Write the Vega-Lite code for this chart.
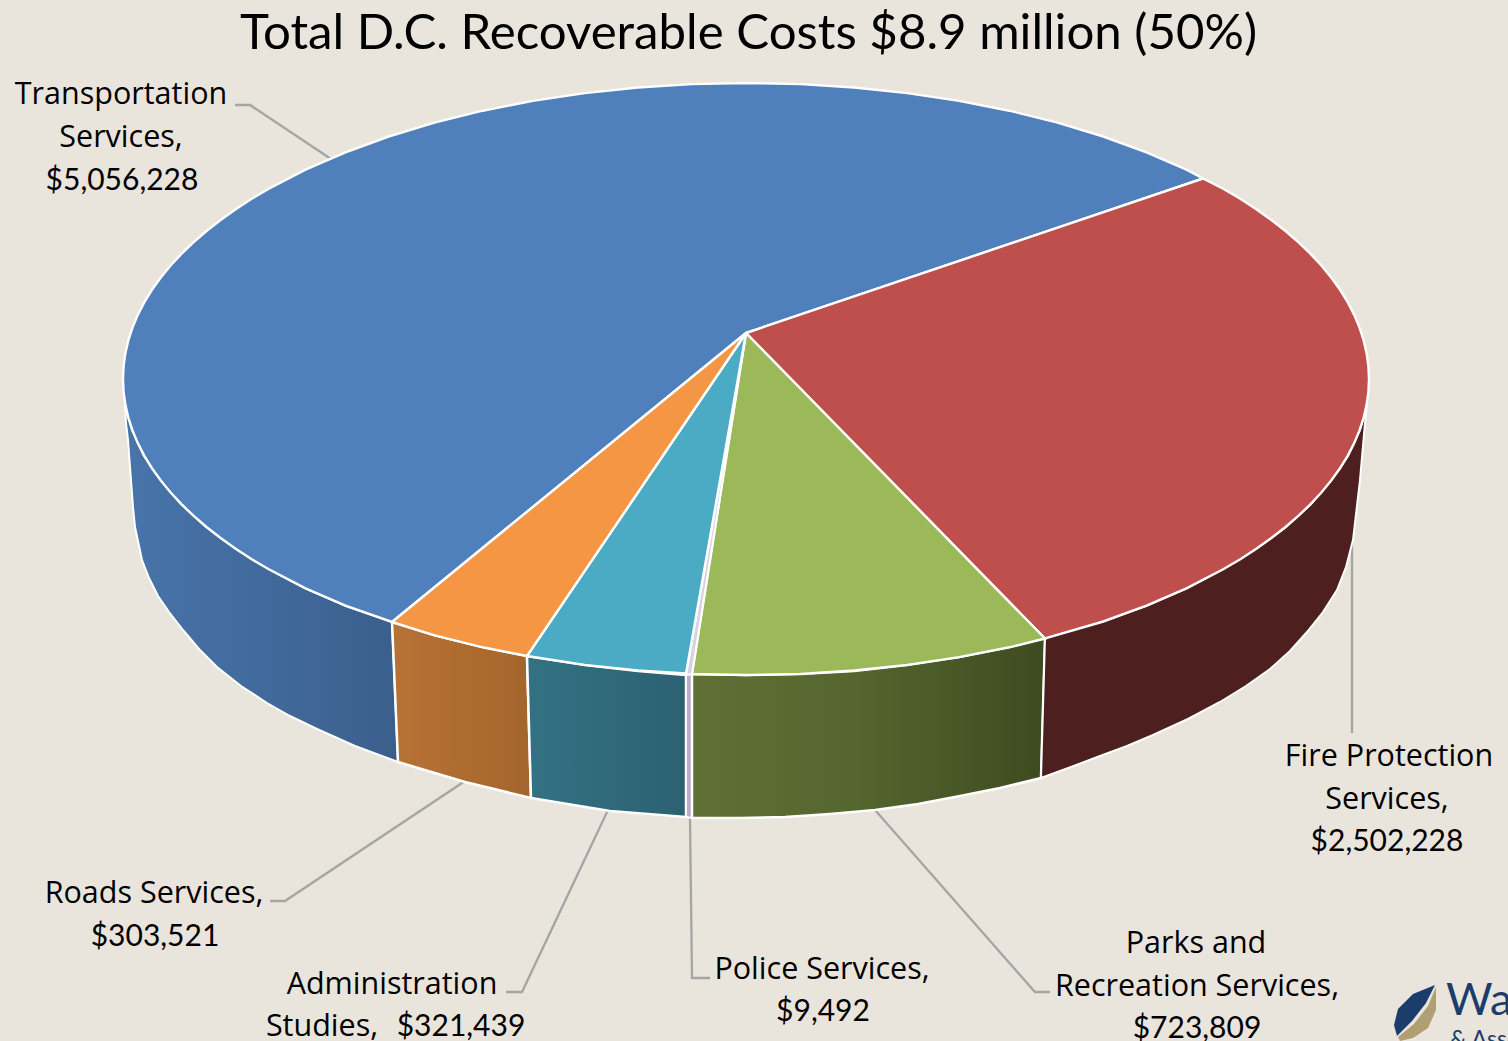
{"$schema":"https://vega.github.io/schema/vega-lite/v6.json","width":1508,"height":1041,"padding":0,"autosize":{"type":"none"},"background":"#e9e4dc","config":{"view":{"stroke":null}},
"data":{"values":[
{"shape":"wallBlue","seq":1,"x":125,"y":405},{"shape":"wallBlue","seq":2,"x":132,"y":430},{"shape":"wallBlue","seq":3,"x":144,"y":456},{"shape":"wallBlue","seq":4,"x":161,"y":480},{"shape":"wallBlue","seq":5,"x":181,"y":504},{"shape":"wallBlue","seq":6,"x":206,"y":527},{"shape":"wallBlue","seq":7,"x":236,"y":549},{"shape":"wallBlue","seq":8,"x":269,"y":569},{"shape":"wallBlue","seq":9,"x":305,"y":588},{"shape":"wallBlue","seq":10,"x":346,"y":606},{"shape":"wallBlue","seq":11,"x":392,"y":622},{"shape":"wallBlue","seq":12,"x":398,"y":762},{"shape":"wallBlue","seq":13,"x":355,"y":746},{"shape":"wallBlue","seq":14,"x":317,"y":729},{"shape":"wallBlue","seq":15,"x":290,"y":716},{"shape":"wallBlue","seq":16,"x":267,"y":703},{"shape":"wallBlue","seq":17,"x":241,"y":686},{"shape":"wallBlue","seq":18,"x":217,"y":667},{"shape":"wallBlue","seq":19,"x":199,"y":649},{"shape":"wallBlue","seq":20,"x":183,"y":630},{"shape":"wallBlue","seq":21,"x":169,"y":612},{"shape":"wallBlue","seq":22,"x":158,"y":596},{"shape":"wallBlue","seq":23,"x":149,"y":578},{"shape":"wallBlue","seq":24,"x":142,"y":560},{"shape":"wallBlue","seq":25,"x":135,"y":527},{"shape":"wallBlue","seq":26,"x":133,"y":507},{"shape":"wallBlue","seq":27,"x":128,"y":440},{"shape":"wallBlue","seq":28,"x":126,"y":423},{"shape":"wallBlue","seq":29,"x":125,"y":405},
{"shape":"wallOrange","seq":1,"x":392,"y":622},{"shape":"wallOrange","seq":2,"x":434,"y":635},{"shape":"wallOrange","seq":3,"x":483,"y":647},{"shape":"wallOrange","seq":4,"x":527,"y":656},{"shape":"wallOrange","seq":5,"x":531,"y":798},{"shape":"wallOrange","seq":6,"x":465,"y":782},{"shape":"wallOrange","seq":7,"x":398,"y":762},{"shape":"wallOrange","seq":8,"x":392,"y":622},
{"shape":"wallTeal","seq":1,"x":527,"y":656},{"shape":"wallTeal","seq":2,"x":585,"y":665},{"shape":"wallTeal","seq":3,"x":638,"y":671},{"shape":"wallTeal","seq":4,"x":686,"y":675},{"shape":"wallTeal","seq":5,"x":686,"y":817},{"shape":"wallTeal","seq":6,"x":610,"y":811},{"shape":"wallTeal","seq":7,"x":531,"y":798},{"shape":"wallTeal","seq":8,"x":527,"y":656},
{"shape":"wallPolice","seq":1,"x":686,"y":675},{"shape":"wallPolice","seq":2,"x":692,"y":674},{"shape":"wallPolice","seq":3,"x":692,"y":818},{"shape":"wallPolice","seq":4,"x":686,"y":817},{"shape":"wallPolice","seq":5,"x":686,"y":675},
{"shape":"wallGreen","seq":1,"x":692,"y":674},{"shape":"wallGreen","seq":2,"x":746,"y":675},{"shape":"wallGreen","seq":3,"x":800,"y":674},{"shape":"wallGreen","seq":4,"x":854,"y":671},{"shape":"wallGreen","seq":5,"x":907,"y":665},{"shape":"wallGreen","seq":6,"x":959,"y":657},{"shape":"wallGreen","seq":7,"x":1009,"y":647},{"shape":"wallGreen","seq":8,"x":1045,"y":638},{"shape":"wallGreen","seq":9,"x":1041,"y":778},{"shape":"wallGreen","seq":10,"x":1000,"y":788},{"shape":"wallGreen","seq":11,"x":960,"y":796},{"shape":"wallGreen","seq":12,"x":918,"y":804},{"shape":"wallGreen","seq":13,"x":875,"y":810},{"shape":"wallGreen","seq":14,"x":830,"y":814},{"shape":"wallGreen","seq":15,"x":785,"y":817},{"shape":"wallGreen","seq":16,"x":740,"y":818},{"shape":"wallGreen","seq":17,"x":692,"y":818},{"shape":"wallGreen","seq":18,"x":692,"y":674},
{"shape":"wallRed","seq":1,"x":1045,"y":638},{"shape":"wallRed","seq":2,"x":1103,"y":621},{"shape":"wallRed","seq":3,"x":1146,"y":606},{"shape":"wallRed","seq":4,"x":1187,"y":588},{"shape":"wallRed","seq":5,"x":1223,"y":569},{"shape":"wallRed","seq":6,"x":1256,"y":549},{"shape":"wallRed","seq":7,"x":1286,"y":527},{"shape":"wallRed","seq":8,"x":1311,"y":504},{"shape":"wallRed","seq":9,"x":1331,"y":480},{"shape":"wallRed","seq":10,"x":1348,"y":456},{"shape":"wallRed","seq":11,"x":1360,"y":430},{"shape":"wallRed","seq":12,"x":1367,"y":405},{"shape":"wallRed","seq":13,"x":1365,"y":423},{"shape":"wallRed","seq":14,"x":1360,"y":480},{"shape":"wallRed","seq":15,"x":1353,"y":540},{"shape":"wallRed","seq":16,"x":1346,"y":567},{"shape":"wallRed","seq":17,"x":1337,"y":590},{"shape":"wallRed","seq":18,"x":1323,"y":612},{"shape":"wallRed","seq":19,"x":1307,"y":632},{"shape":"wallRed","seq":20,"x":1290,"y":651},{"shape":"wallRed","seq":21,"x":1270,"y":669},{"shape":"wallRed","seq":22,"x":1246,"y":686},{"shape":"wallRed","seq":23,"x":1220,"y":702},{"shape":"wallRed","seq":24,"x":1188,"y":719},{"shape":"wallRed","seq":25,"x":1153,"y":735},{"shape":"wallRed","seq":26,"x":1127,"y":746},{"shape":"wallRed","seq":27,"x":1100,"y":756},{"shape":"wallRed","seq":28,"x":1071,"y":767},{"shape":"wallRed","seq":29,"x":1041,"y":778},{"shape":"wallRed","seq":30,"x":1045,"y":638},
{"shape":"topBlue","seq":1,"x":746,"y":333},{"shape":"topBlue","seq":2,"x":392,"y":622},{"shape":"topBlue","seq":3,"x":345.5,"y":605.7},{"shape":"topBlue","seq":4,"x":305.5,"y":588.3},{"shape":"topBlue","seq":5,"x":268.8,"y":569.3},{"shape":"topBlue","seq":6,"x":251.7,"y":559.2},{"shape":"topBlue","seq":7,"x":235.7,"y":548.8},{"shape":"topBlue","seq":8,"x":220.6,"y":538},{"shape":"topBlue","seq":9,"x":206.5,"y":527},{"shape":"topBlue","seq":10,"x":193.4,"y":515.7},{"shape":"topBlue","seq":11,"x":181.4,"y":504.1},{"shape":"topBlue","seq":12,"x":170.4,"y":492.3},{"shape":"topBlue","seq":13,"x":160.6,"y":480.2},{"shape":"topBlue","seq":14,"x":151.8,"y":468},{"shape":"topBlue","seq":15,"x":144.2,"y":455.6},{"shape":"topBlue","seq":16,"x":137.8,"y":443.1},{"shape":"topBlue","seq":17,"x":132.5,"y":430.4},{"shape":"topBlue","seq":18,"x":128.3,"y":417.6},{"shape":"topBlue","seq":19,"x":125.4,"y":404.8},{"shape":"topBlue","seq":20,"x":123.6,"y":391.9},{"shape":"topBlue","seq":21,"x":123,"y":379},{"shape":"topBlue","seq":22,"x":123.6,"y":366.1},{"shape":"topBlue","seq":23,"x":125.4,"y":353.2},{"shape":"topBlue","seq":24,"x":128.3,"y":340.4},{"shape":"topBlue","seq":25,"x":132.5,"y":327.6},{"shape":"topBlue","seq":26,"x":137.8,"y":314.9},{"shape":"topBlue","seq":27,"x":144.2,"y":302.4},{"shape":"topBlue","seq":28,"x":151.8,"y":290},{"shape":"topBlue","seq":29,"x":160.6,"y":277.8},{"shape":"topBlue","seq":30,"x":170.4,"y":265.7},{"shape":"topBlue","seq":31,"x":181.4,"y":253.9},{"shape":"topBlue","seq":32,"x":193.4,"y":242.3},{"shape":"topBlue","seq":33,"x":206.5,"y":231},{"shape":"topBlue","seq":34,"x":220.6,"y":220},{"shape":"topBlue","seq":35,"x":235.7,"y":209.2},{"shape":"topBlue","seq":36,"x":251.7,"y":198.8},{"shape":"topBlue","seq":37,"x":268.8,"y":188.7},{"shape":"topBlue","seq":38,"x":305.5,"y":169.7},{"shape":"topBlue","seq":39,"x":345.5,"y":152.3},{"shape":"topBlue","seq":40,"x":388.7,"y":136.5},{"shape":"topBlue","seq":41,"x":434.5,"y":122.7},{"shape":"topBlue","seq":42,"x":482.7,"y":110.7},{"shape":"topBlue","seq":43,"x":532.9,"y":100.9},{"shape":"topBlue","seq":44,"x":584.8,"y":93.1},{"shape":"topBlue","seq":45,"x":637.8,"y":87.5},{"shape":"topBlue","seq":46,"x":691.7,"y":84.1},{"shape":"topBlue","seq":47,"x":746,"y":83},{"shape":"topBlue","seq":48,"x":800.3,"y":84.1},{"shape":"topBlue","seq":49,"x":854.2,"y":87.5},{"shape":"topBlue","seq":50,"x":907.2,"y":93.1},{"shape":"topBlue","seq":51,"x":959.1,"y":100.9},{"shape":"topBlue","seq":52,"x":1009.3,"y":110.7},{"shape":"topBlue","seq":53,"x":1057.5,"y":122.7},{"shape":"topBlue","seq":54,"x":1103.3,"y":136.5},{"shape":"topBlue","seq":55,"x":1146.5,"y":152.3},{"shape":"topBlue","seq":56,"x":1186.5,"y":169.7},{"shape":"topBlue","seq":57,"x":1203,"y":178.5},{"shape":"topBlue","seq":58,"x":746,"y":333},
{"shape":"topRed","seq":1,"x":746,"y":333},{"shape":"topRed","seq":2,"x":1203,"y":178.5},{"shape":"topRed","seq":3,"x":1223.2,"y":188.7},{"shape":"topRed","seq":4,"x":1240.3,"y":198.8},{"shape":"topRed","seq":5,"x":1256.3,"y":209.2},{"shape":"topRed","seq":6,"x":1271.4,"y":220},{"shape":"topRed","seq":7,"x":1285.5,"y":231},{"shape":"topRed","seq":8,"x":1298.6,"y":242.3},{"shape":"topRed","seq":9,"x":1310.6,"y":253.9},{"shape":"topRed","seq":10,"x":1321.6,"y":265.7},{"shape":"topRed","seq":11,"x":1331.4,"y":277.8},{"shape":"topRed","seq":12,"x":1340.2,"y":290},{"shape":"topRed","seq":13,"x":1347.8,"y":302.4},{"shape":"topRed","seq":14,"x":1354.2,"y":314.9},{"shape":"topRed","seq":15,"x":1359.5,"y":327.6},{"shape":"topRed","seq":16,"x":1363.7,"y":340.4},{"shape":"topRed","seq":17,"x":1366.6,"y":353.2},{"shape":"topRed","seq":18,"x":1368.4,"y":366.1},{"shape":"topRed","seq":19,"x":1369,"y":379},{"shape":"topRed","seq":20,"x":1368.4,"y":391.9},{"shape":"topRed","seq":21,"x":1366.6,"y":404.8},{"shape":"topRed","seq":22,"x":1363.7,"y":417.6},{"shape":"topRed","seq":23,"x":1359.5,"y":430.4},{"shape":"topRed","seq":24,"x":1354.2,"y":443.1},{"shape":"topRed","seq":25,"x":1347.8,"y":455.6},{"shape":"topRed","seq":26,"x":1340.2,"y":468},{"shape":"topRed","seq":27,"x":1331.4,"y":480.2},{"shape":"topRed","seq":28,"x":1321.6,"y":492.3},{"shape":"topRed","seq":29,"x":1310.6,"y":504.1},{"shape":"topRed","seq":30,"x":1298.6,"y":515.7},{"shape":"topRed","seq":31,"x":1285.5,"y":527},{"shape":"topRed","seq":32,"x":1271.4,"y":538},{"shape":"topRed","seq":33,"x":1256.3,"y":548.8},{"shape":"topRed","seq":34,"x":1240.3,"y":559.2},{"shape":"topRed","seq":35,"x":1223.2,"y":569.3},{"shape":"topRed","seq":36,"x":1186.5,"y":588.3},{"shape":"topRed","seq":37,"x":1146.5,"y":605.7},{"shape":"topRed","seq":38,"x":1103.3,"y":621.5},{"shape":"topRed","seq":39,"x":1045,"y":638.5},{"shape":"topRed","seq":40,"x":746,"y":333},
{"shape":"topGreen","seq":1,"x":746,"y":333},{"shape":"topGreen","seq":2,"x":1045,"y":638.5},{"shape":"topGreen","seq":3,"x":1009.3,"y":647.3},{"shape":"topGreen","seq":4,"x":959.1,"y":657.1},{"shape":"topGreen","seq":5,"x":907.2,"y":664.9},{"shape":"topGreen","seq":6,"x":854.2,"y":670.5},{"shape":"topGreen","seq":7,"x":800.3,"y":673.9},{"shape":"topGreen","seq":8,"x":746,"y":675},{"shape":"topGreen","seq":9,"x":692,"y":674},{"shape":"topGreen","seq":10,"x":746,"y":333},
{"shape":"topPolice","seq":1,"x":746,"y":333},{"shape":"topPolice","seq":2,"x":692,"y":674},{"shape":"topPolice","seq":3,"x":686,"y":675},{"shape":"topPolice","seq":4,"x":746,"y":333},
{"shape":"topTeal","seq":1,"x":746,"y":333},{"shape":"topTeal","seq":2,"x":686,"y":673.5},{"shape":"topTeal","seq":3,"x":637.8,"y":670.5},{"shape":"topTeal","seq":4,"x":584.8,"y":664.9},{"shape":"topTeal","seq":5,"x":527,"y":656},{"shape":"topTeal","seq":6,"x":746,"y":333},
{"shape":"topOrange","seq":1,"x":746,"y":333},{"shape":"topOrange","seq":2,"x":527,"y":656},{"shape":"topOrange","seq":3,"x":482.7,"y":647.3},{"shape":"topOrange","seq":4,"x":434.5,"y":635.3},{"shape":"topOrange","seq":5,"x":392,"y":622},{"shape":"topOrange","seq":6,"x":746,"y":333},
{"shape":"leafNavy","seq":1,"x":1435,"y":985},{"shape":"leafNavy","seq":2,"x":1413,"y":994},{"shape":"leafNavy","seq":3,"x":1398,"y":1009},{"shape":"leafNavy","seq":4,"x":1394,"y":1025},{"shape":"leafNavy","seq":5,"x":1397,"y":1036},{"shape":"leafNavy","seq":6,"x":1412,"y":1021},{"shape":"leafNavy","seq":7,"x":1426,"y":1003},{"shape":"leafNavy","seq":8,"x":1435,"y":985},
{"shape":"leafTan","seq":1,"x":1436,"y":987},{"shape":"leafTan","seq":2,"x":1436,"y":1010},{"shape":"leafTan","seq":3,"x":1428,"y":1028},{"shape":"leafTan","seq":4,"x":1413,"y":1038},{"shape":"leafTan","seq":5,"x":1400,"y":1041},{"shape":"leafTan","seq":6,"x":1398,"y":1037},{"shape":"leafTan","seq":7,"x":1414,"y":1024},{"shape":"leafTan","seq":8,"x":1428,"y":1006},{"shape":"leafTan","seq":9,"x":1436,"y":987}
]},
"encoding":{"x":{"field":"x","type":"quantitative","scale":{"domain":[0,1508],"nice":false,"zero":false},"axis":null},"y":{"field":"y","type":"quantitative","scale":{"domain":[1041,0],"nice":false,"zero":false},"axis":null},"order":{"field":"seq","type":"quantitative"}},
"layer":[
{"data":{"values":[
{"leader":"Transportation","seq":1,"x":235,"y":105},{"leader":"Transportation","seq":2,"x":250,"y":105},{"leader":"Transportation","seq":3,"x":331,"y":159},
{"leader":"Fire","seq":1,"x":1352,"y":540},{"leader":"Fire","seq":2,"x":1352,"y":733},
{"leader":"Roads","seq":1,"x":270,"y":901},{"leader":"Roads","seq":2,"x":285,"y":901},{"leader":"Roads","seq":3,"x":465,"y":781},
{"leader":"Administration","seq":1,"x":506,"y":992},{"leader":"Administration","seq":2,"x":522,"y":992},{"leader":"Administration","seq":3,"x":608,"y":810},
{"leader":"Police","seq":1,"x":690,"y":818},{"leader":"Police","seq":2,"x":692,"y":978},{"leader":"Police","seq":3,"x":710,"y":978},
{"leader":"Parks","seq":1,"x":875,"y":810},{"leader":"Parks","seq":2,"x":1035,"y":992},{"leader":"Parks","seq":3,"x":1050,"y":992}
]},"mark":{"type":"line","stroke":"#a5a5a5","strokeWidth":2.3},"encoding":{"detail":{"field":"leader"}}},
{"transform":[{"filter":"datum.shape==='wallBlue'"}],"mark":{"type":"line","stroke":"#ffffff","strokeWidth":2,"fill":{"gradient":"linear","x1":0,"y1":0,"x2":1,"y2":0,"stops":[{"offset":0,"color":"#4874aa"},{"offset":1,"color":"#3a5f8d"}]}}},
{"transform":[{"filter":"datum.shape==='wallOrange'"}],"mark":{"type":"line","stroke":"#ffffff","strokeWidth":2.5,"fill":{"gradient":"linear","x1":0,"y1":0,"x2":1,"y2":0,"stops":[{"offset":0,"color":"#b87236"},{"offset":1,"color":"#a4652c"}]}}},
{"transform":[{"filter":"datum.shape==='wallTeal'"}],"mark":{"type":"line","stroke":"#ffffff","strokeWidth":2.5,"fill":{"gradient":"linear","x1":0,"y1":0,"x2":1,"y2":0,"stops":[{"offset":0,"color":"#337283"},{"offset":1,"color":"#2c6172"}]}}},
{"transform":[{"filter":"datum.shape==='wallPolice'"}],"mark":{"type":"line","stroke":"#ffffff","strokeWidth":2,"fill":"#b8aec8"}},
{"transform":[{"filter":"datum.shape==='wallGreen'"}],"mark":{"type":"line","stroke":"#ffffff","strokeWidth":2.5,"fill":{"gradient":"linear","x1":0,"y1":0,"x2":1,"y2":0,"stops":[{"offset":0,"color":"#5e7034"},{"offset":0.45,"color":"#55672f"},{"offset":1,"color":"#3e4a20"}]}}},
{"transform":[{"filter":"datum.shape==='wallRed'"}],"mark":{"type":"line","stroke":"#ffffff","strokeWidth":2,"fill":"#4d1f1f"}},
{"transform":[{"filter":"datum.shape==='topBlue'"}],"mark":{"type":"line","stroke":"#ffffff","strokeWidth":2.4,"fill":"#4f80bb"}},
{"transform":[{"filter":"datum.shape==='topRed'"}],"mark":{"type":"line","stroke":"#ffffff","strokeWidth":2.4,"fill":"#bf4f4d"}},
{"transform":[{"filter":"datum.shape==='topGreen'"}],"mark":{"type":"line","stroke":"#ffffff","strokeWidth":2.4,"fill":"#9bb959"}},
{"transform":[{"filter":"datum.shape==='topPolice'"}],"mark":{"type":"line","stroke":"#ffffff","strokeWidth":2,"fill":"#d8d2e4"}},
{"transform":[{"filter":"datum.shape==='topTeal'"}],"mark":{"type":"line","stroke":"#ffffff","strokeWidth":2.4,"fill":"#4baac4"}},
{"transform":[{"filter":"datum.shape==='topOrange'"}],"mark":{"type":"line","stroke":"#ffffff","strokeWidth":2.4,"fill":"#f59645"}},
{"transform":[{"filter":"datum.shape==='leafNavy'"}],"mark":{"type":"line","stroke":null,"strokeWidth":0,"fill":"#1b3d6b"}},
{"transform":[{"filter":"datum.shape==='leafTan'"}],"mark":{"type":"line","stroke":null,"strokeWidth":0,"fill":"#b09f73"}},
{"data":{"values":[{"label":"Total D.C. Recoverable Costs $8.9 million (50%)","x":748.5,"y":49}]},"mark":{"type":"text","font":"Lato","fontSize":49.2,"color":"#000000","align":"center","baseline":"alphabetic"},"encoding":{"text":{"field":"label"},"order":{"value":null}}},
{"data":{"values":[
{"label":"Transportation","x":121,"y":104},{"label":"Services,","x":121,"y":147},
{"label":"Fire Protection","x":1389,"y":766},{"label":"Services,","x":1387,"y":809},
{"label":"Parks and","x":1196,"y":953},{"label":"Recreation Services,","x":1197,"y":996},
{"label":"Police Services,","x":822,"y":979},
{"label":"Administration","x":392,"y":994},{"label":"Studies,","x":322,"y":1036},
{"label":"Roads Services,","x":154,"y":903}
]},"mark":{"type":"text","font":"Open Sans","fontSize":30.5,"color":"#000000","align":"center","baseline":"alphabetic"},"encoding":{"text":{"field":"label"},"order":{"value":null}}},
{"data":{"values":[
{"amount":"$5,056,228","x":122,"y":190},{"amount":"$2,502,228","x":1387,"y":851},{"amount":"$723,809","x":1197,"y":1038},{"amount":"$9,492","x":823,"y":1021},{"amount":"$321,439","x":461,"y":1036},{"amount":"$303,521","x":155,"y":946}
]},"mark":{"type":"text","font":"Lato","fontSize":30,"color":"#000000","align":"center","baseline":"alphabetic"},"encoding":{"text":{"field":"amount"},"order":{"value":null}}},
{"data":{"values":[{"label":"Wa","x":1446,"y":1015}]},"mark":{"type":"text","font":"Lato","fontSize":45,"color":"#1b3d6b","align":"left","baseline":"alphabetic"},"encoding":{"text":{"field":"label"},"order":{"value":null}}},
{"data":{"values":[{"label":"& Associates","x":1450,"y":1047}]},"mark":{"type":"text","font":"Lato","fontSize":23,"color":"#1b3d6b","align":"left","baseline":"alphabetic"},"encoding":{"text":{"field":"label"},"order":{"value":null}}}
]}
